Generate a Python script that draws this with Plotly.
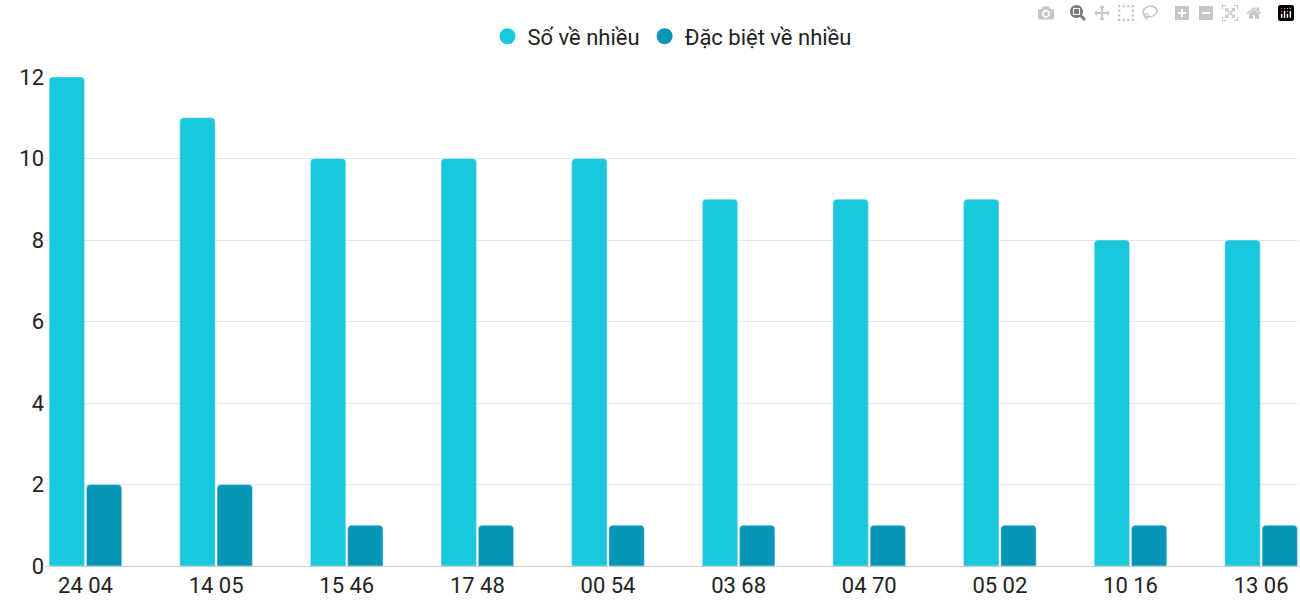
import plotly.graph_objects as go

categories = ["24 04", "14 05", "15 46", "17 48", "00 54", "03 68", "04 70", "05 02", "10 16", "13 06"]
so_ve_nhieu = [12, 11, 10, 10, 10, 9, 9, 9, 8, 8]
dac_biet = [2, 2, 1, 1, 1, 1, 1, 1, 1, 1]
names = ["Số về nhiều", "Đặc biệt về nhiều"]
colors = ["#19c8dc", "#0795b8"]

fig = go.Figure()
for name, vals, c in zip(names, [so_ve_nhieu, dac_biet], colors):
    fig.add_bar(x=categories, y=vals, name=name, marker_color=c, showlegend=False)
    fig.add_scatter(x=[None], y=[None], mode="markers", name=name,
                    marker=dict(color=c, size=26, symbol="circle"))

fig.update_layout(
    autosize=True, barmode="group", bargap=0.43, bargroupgap=0.05,
    barcornerradius=4,
    plot_bgcolor="white", paper_bgcolor="white",
    font=dict(family="Roboto", size=22, color="#222"),
    margin=dict(l=45, r=1, t=77, b=34),
    legend=dict(orientation="h", x=0.5, xanchor="center", y=1.04, yanchor="bottom",
                font=dict(size=22)),
    xaxis=dict(range=[-0.31, 9.29], showgrid=False, showline=True, linecolor="#ccc",
               ticks="", tickfont=dict(size=22)),
    yaxis=dict(range=[0, 12], dtick=2, gridcolor="#e6e6e6", zeroline=False,
               ticks="", tickfont=dict(size=22)),
)
fig.write_html("out.html", default_width="100vw", default_height="100vh",
               config={"responsive": True})
with open("out.html") as f:
    s = f.read()
s = s.replace("<head>", "<head><style>html,body{margin:0;padding:0;overflow:hidden}</style>", 1)
with open("out.html", "w") as f:
    f.write(s)
